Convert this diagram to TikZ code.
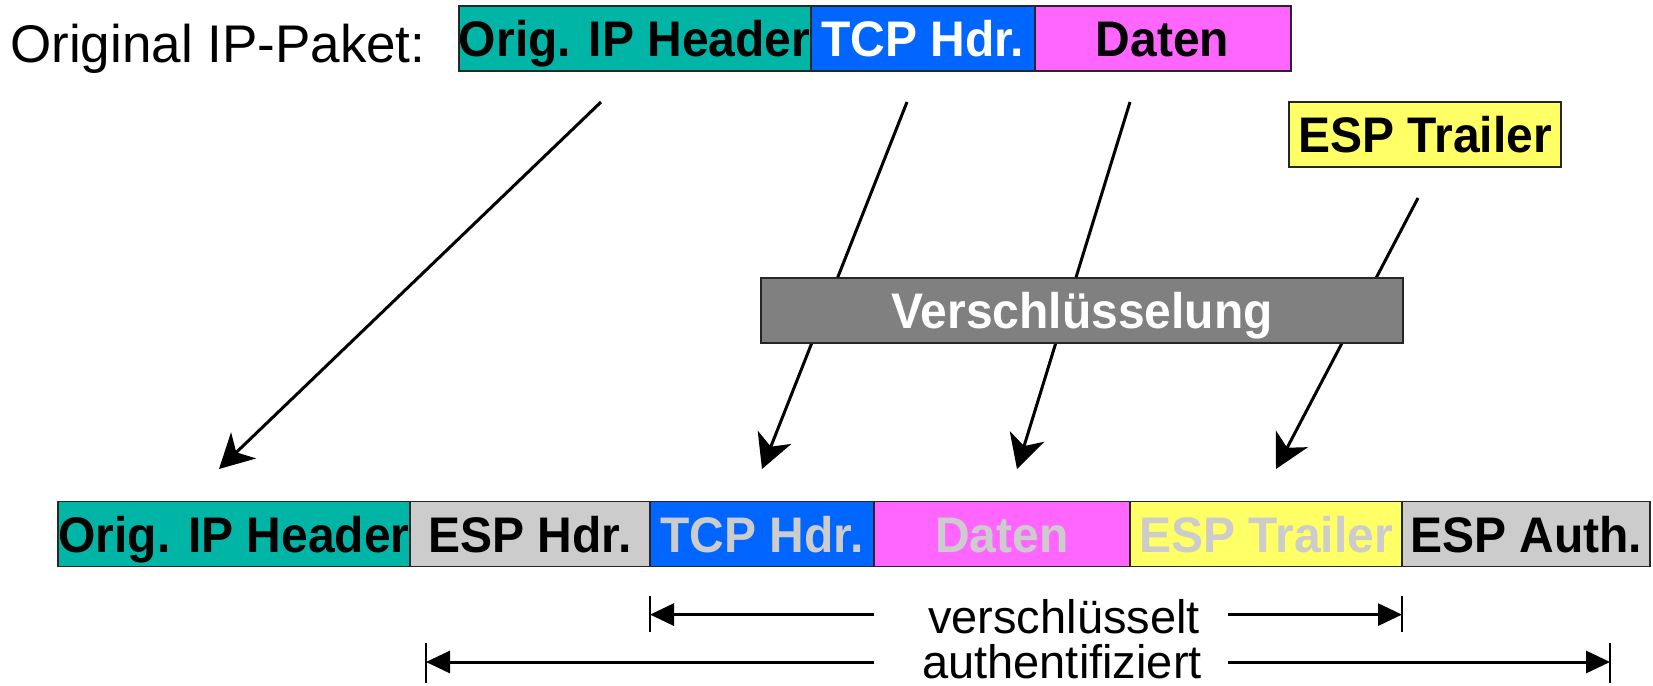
\documentclass[tikz,border=0pt]{standalone}
\usepackage{fontspec}
\setmainfont{Liberation Sans}
\newfontfamily\boxfont[FakeStretch=0.96]{Liberation Sans}
\usepackage{xcolor}
\definecolor{hdrteal}{RGB}{0,181,165}
\definecolor{tcpblue}{RGB}{0,102,255}
\definecolor{datamagenta}{RGB}{255,102,255}
\definecolor{trailyellow}{RGB}{255,255,102}
\definecolor{espgray}{RGB}{204,204,204}
\definecolor{cryptgray}{RGB}{128,128,128}
\usetikzlibrary{arrows.meta,positioning}

\begin{document}
\begin{tikzpicture}[x=1pt,y=-1pt,
field/.style={draw=black!85,line width=1.8pt,minimum height=65pt,inner sep=0pt,outer sep=0pt,text height=36pt,text depth=0pt,font=\boxfont\bfseries\fontsize{50}{60}\selectfont},
move/.style={-{Stealth[length=34pt,width=36pt,inset=10pt]},line width=3pt},
dim/.style={-{Triangle[length=24pt,width=22pt]},line width=3pt},
tick/.style={line width=1.2pt},
dimtext/.style={anchor=base,inner sep=0pt,font=\fontsize{47}{50}\selectfont}]
\useasboundingbox (0,0) rectangle (1653,685);
\node[anchor=base west,inner sep=0pt,font=\fontsize{53}{60}\selectfont] (orig) at (10,63) {Original IP-Paket:};
\node[field,fill=hdrteal,minimum width=352pt] (topip) at (634.6,38.5) {Orig. IP Header};
\node[field,fill=tcpblue,text=white,minimum width=224pt,right=0pt of topip] (toptcp) {TCP Hdr.};
\node[field,fill=datamagenta,minimum width=256pt,right=0pt of toptcp] (topdata) {Daten};
\node[field,fill=trailyellow,minimum width=272pt] (toptrl) at (1425,134.5) {ESP Trailer};
\node[field,fill=hdrteal,minimum width=352pt] (ip) at (234,534) {Orig. IP Header};
\node[field,fill=espgray,minimum width=240pt,right=0pt of ip] (esphdr) {ESP Hdr.};
\node[field,fill=tcpblue,text=espgray,minimum width=224pt,right=0pt of esphdr] (tcp) {TCP Hdr.};
\node[field,fill=datamagenta,text=espgray,minimum width=256pt,right=0pt of tcp] (data) {Daten};
\node[field,fill=trailyellow,text=espgray,minimum width=272pt,right=0pt of data] (trl) {ESP Trailer};
\node[field,fill=espgray,minimum width=248pt,right=0pt of trl] (auth) {ESP Auth.};
\coordinate (s1) at (601,102); \coordinate (e1) at (219,469);
\coordinate (s2) at (907,102); \coordinate (e2) at (762,469);
\coordinate (s3) at (1130,102); \coordinate (e3) at (1017,469);
\coordinate (s4) at (1418,198); \coordinate (e4) at (1276,469);
\draw[move] (s1)--(e1);
\draw[move] (s2)--(e2);
\draw[move] (s3)--(e3);
\draw[move] (s4)--(e4);
\node[field,fill=cryptgray,text=white,minimum width=642pt] (crypt) at (1082,310.5) {Verschlüsselung};
\node[dimtext] (enc) at (1064,633) {verschlüsselt};
\node[dimtext] (aut) at (1062,678) {authentifiziert};
\coordinate (encl) at (650,614.6); \coordinate (encr) at (1402,614.6);
\coordinate (autl) at (426,662); \coordinate (autr) at (1610,662);
\draw[dim] (874,614.6)--(encl);
\draw[dim] (1228,614.6)--(encr);
\draw[dim] (874,662)--(autl);
\draw[dim] (1228,662)--(autr);
\draw[tick] (650,596)--(650,632); \draw[tick] (1402,596)--(1402,632);
\draw[tick] (426,643)--(426,683); \draw[tick] (1610,643)--(1610,683);
\end{tikzpicture}
\end{document}
